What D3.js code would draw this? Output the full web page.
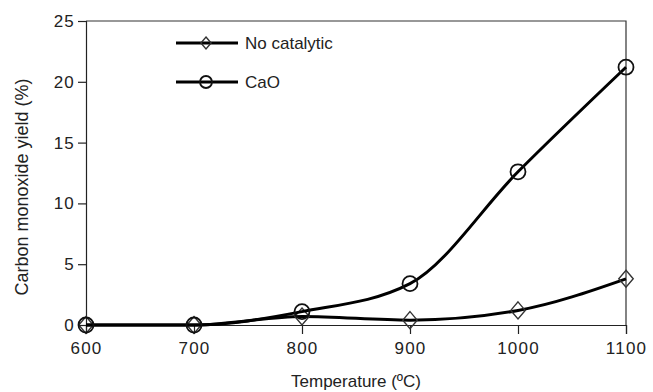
<!DOCTYPE html>
<html>
<head>
<meta charset="utf-8">
<script src="https://cdn.jsdelivr.net/npm/d3@7"></script>
<style>
  body { margin: 0; background: #fff; }
  text { font-family: "Liberation Sans", Arial, sans-serif; fill: #222; }
</style>
</head>
<body>
<div id="chart"></div>
<script>
const width = 653;
const height = 392;
const margin = { top: 21, right: 27, bottom: 67, left: 86 };

// Data
const temperatures = [600, 700, 800, 900, 1000, 1100];
const noCatalytic = [0, 0, 0.7, 0.4, 1.2, 3.8];
const cao = [0, 0, 1.1, 3.4, 12.6, 21.2];
const yTicks = [0, 5, 10, 15, 20, 25];
const seriesNames = ['No catalytic', 'CaO'];

const series = [
  { name: seriesNames[0], values: noCatalytic, marker: 'diamond' },
  { name: seriesNames[1], values: cao, marker: 'circle' }
];

const svg = d3.select('#chart')
  .append('svg')
    .attr('width', width)
    .attr('height', height);

const x = d3.scaleLinear()
  .domain([600, 1100])
  .range([margin.left, width - margin.right]);

const y = d3.scaleLinear()
  .domain([0, 25])
  .range([height - margin.bottom, margin.top]);

// frame (top + right sides)
svg.append('path')
  .attr('d', `M${x(600)},${y(25)}H${x(1100)}V${y(0)}`)
  .attr('fill', 'none')
  .attr('stroke', '#333')
  .attr('stroke-width', 1.2);

// axes
const xAxis = svg.append('g')
  .attr('transform', `translate(0,${y(0)})`)
  .call(d3.axisBottom(x).tickValues(temperatures).tickFormat(d3.format('d')).tickSize(9).tickPadding(8));

const yAxis = svg.append('g')
  .attr('transform', `translate(${x(600)},0)`)
  .call(d3.axisLeft(y).tickValues(yTicks).tickSize(8).tickPadding(3));

[xAxis, yAxis].forEach(g => {
  g.attr('font-size', null).attr('font-family', null);
  g.select('.domain').attr('stroke', '#222').attr('stroke-width', 1.2);
  g.selectAll('.tick line').attr('stroke', '#222').attr('stroke-width', 1.2);
  g.selectAll('.tick text')
    .style('font-size', '17px')
    .attr('letter-spacing', 1.2)
    .attr('fill', '#222');
});

// axis titles
svg.append('text')
  .attr('x', (x(600) + x(1100)) / 2)
  .attr('y', 387)
  .attr('text-anchor', 'middle')
  .style('font-size', '17px')
  .text('Temperature (ºC)');

svg.append('text')
  .attr('transform', `translate(28,${(y(0) + y(25)) / 2 + 14}) rotate(-90)`)
  .attr('text-anchor', 'middle')
  .style('font-size', '18px')
  .text('Carbon monoxide yield (%)');

const line = d3.line()
  .x((d, i) => x(temperatures[i]))
  .y(d => y(d))
  .curve(d3.curveMonotoneX);

function drawMarker(g, type, cx, cy, r) {
  if (type === 'circle') {
    g.append('circle')
      .attr('cx', cx).attr('cy', cy).attr('r', r)
      .attr('fill', 'none').attr('stroke', '#111').attr('stroke-width', 1.8);
  } else {
    g.append('path')
      .attr('d', `M${cx},${cy - r}L${cx + r * 0.85},${cy}L${cx},${cy + r}L${cx - r * 0.85},${cy}Z`)
      .attr('fill', 'none').attr('stroke', '#333').attr('stroke-width', 1.4);
  }
}

series.forEach(s => {
  svg.append('path')
    .datum(s.values)
    .attr('d', line)
    .attr('fill', 'none')
    .attr('stroke', '#000')
    .attr('stroke-width', 3);

  const g = svg.append('g');
  s.values.forEach((v, i) => {
    drawMarker(g, s.marker, x(temperatures[i]), y(v), s.marker === 'circle' ? 7.5 : 8.5);
  });
});

// legend
const legend = svg.append('g');
series.forEach((s, i) => {
  const ly = 43 + i * 39;
  legend.append('line')
    .attr('x1', 176).attr('x2', 238)
    .attr('y1', ly).attr('y2', ly)
    .attr('stroke', '#000').attr('stroke-width', 3);
  drawMarker(legend, s.marker, 206, ly, 6);
  legend.append('text')
    .attr('x', 245)
    .attr('y', ly + 6)
    .style('font-size', '17px')
    .text(s.name);
});
</script>
</body>
</html>
